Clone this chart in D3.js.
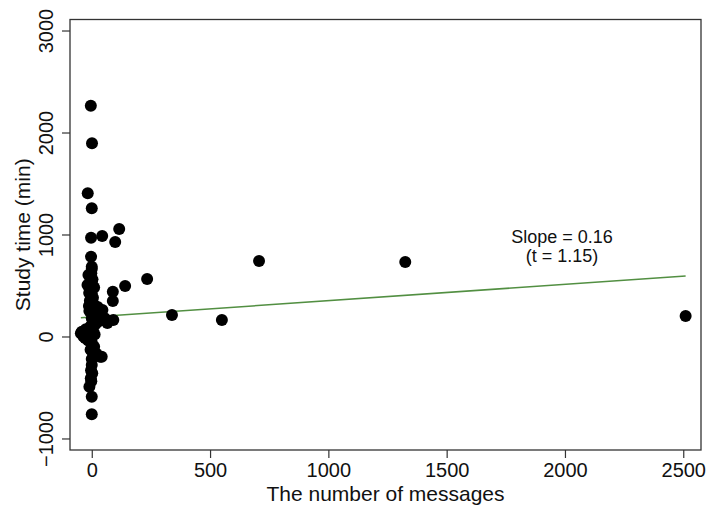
<!DOCTYPE html>
<html>
<head>
<meta charset="utf-8">
<script src="https://cdn.jsdelivr.net/npm/d3@7"></script>
<style>
  body { margin: 0; background: #fff; }
  text { font-family: "Liberation Sans", Arial, Helvetica, sans-serif; fill: #111; }
</style>
</head>
<body>
<script>
// messages (x) vs study time in minutes (y)
var messages = [2510, 1325, 707, 550, 339, 234, 141, 116, 99, 44,
  -4, 1, -17, 0, -3, -3, 0, 0, -14, 0,
  89, 89, 91, -46, -28, 42, 0, -4, -10, 0, 0,
  -18, -11, 10, 38, 66, -8, 5, -5, 3, -2,
  8, 20, -10, 0, 15, 30, -5, 5, -20, -35,
  -15, 0, 10, -5, 5, 20, 0, -3, 2, -2,
  25, 45, 55, 0, 10, -12, -25, 12, -8, -24, -42, 35]
var studyTime = [201, 730, 740, 162, 211, 564, 495, 1054, 926, 985,
  2263, 1895, 1404, 1257, 969, 782, 684, 662, 603, 525,
  439, 348, 162, 31, -15, -198, -279, -410, -492, -590, -763,
  505, 426, 309, 230, 132, 350, 380, 460, 560, 620,
  270, 200, 250, 180, 120, 150, 100, 60, 20, 0,
  -40, -60, -100, -130, -160, -170, -220, -330, -360, -440,
  290, 260, 180, 420, 480, 300, 70, 20, -10, 5, 47, -198]

var xTicks = [0, 500, 1000, 1500, 2000, 2500]
var yTicks = [-1000, 0, 1000, 2000, 3000]
var slope = 0.16, intercept = 191
var fitLabel = ["Slope = 0.16", "(t = 1.15)"]

var width = 707, height = 512
var plotLeft = 70, plotRight = 701, plotTop = 19.5, plotBottom = 450

var svg = d3.select("body").append("svg")
    .attr("width", width).attr("height", height)

var x = d3.scaleLinear().domain([-92, 2575]).range([plotLeft, plotRight])
var y = d3.scaleLinear().domain([-1113, 3108]).range([plotBottom, plotTop])

// frame
svg.append("rect")
    .attr("x", plotLeft).attr("y", plotTop)
    .attr("width", plotRight - plotLeft).attr("height", plotBottom - plotTop)
    .attr("fill", "none").attr("stroke", "#333").attr("stroke-width", 1.3)

var xAxis = svg.append("g")
    .attr("transform", "translate(0," + plotBottom + ")")
    .call(d3.axisBottom(x).tickValues(xTicks).tickSize(8).tickPadding(5).tickFormat(d3.format("d")))
xAxis.select(".domain").remove()
xAxis.selectAll("line").attr("stroke", "#333").attr("stroke-width", 1.2)
xAxis.selectAll("text").style("font-size", "20px")
    .style("font-family", "'Liberation Sans', Arial, sans-serif").attr("fill", "#111")

var yAxis = svg.append("g")
    .attr("transform", "translate(" + plotLeft + ",0)")
    .call(d3.axisLeft(y).tickValues(yTicks).tickSize(8)
      .tickFormat(function(d) { return d < 0 ? "\u2212" + Math.abs(d) : d }))
yAxis.select(".domain").remove()
yAxis.selectAll("line").attr("stroke", "#333").attr("stroke-width", 1.2)
yAxis.selectAll("text")
    .attr("x", null).attr("dy", null)
    .attr("text-anchor", "middle")
    .attr("transform", "translate(-17,0) rotate(-90)")
    .style("font-size", "20px")
    .style("font-family", "'Liberation Sans', Arial, sans-serif").attr("fill", "#111")

// fitted line over the data range
var xs = d3.extent(messages)
var line = d3.line().x(function(d) { return x(d) }).y(function(d) { return y(intercept + slope * d) })
svg.append("path")
    .datum(xs)
    .attr("d", line)
    .attr("fill", "none").attr("stroke", "#528f42").attr("stroke-width", 1.6)

svg.append("g")
    .selectAll("circle")
    .data(messages)
  .enter().append("circle")
    .attr("cx", function(d) { return x(d) })
    .attr("cy", function(d, i) { return y(studyTime[i]) })
    .attr("r", 6)
    .attr("fill", "#000")

svg.append("g")
    .selectAll("text")
    .data(fitLabel)
  .enter().append("text")
    .attr("x", 562).attr("y", function(d, i) { return 243 + i * 19 })
    .attr("text-anchor", "middle")
    .style("font-size", "18px")
    .text(function(d) { return d })

svg.append("text")
    .attr("x", (plotLeft + plotRight) / 2).attr("y", 501)
    .attr("text-anchor", "middle")
    .style("font-size", "21px")
    .text("The number of messages")

svg.append("text")
    .attr("transform", "translate(30," + (plotTop + plotBottom) / 2 + ") rotate(-90)")
    .attr("text-anchor", "middle")
    .style("font-size", "21px")
    .text("Study time (min)")
</script>
</body>
</html>
